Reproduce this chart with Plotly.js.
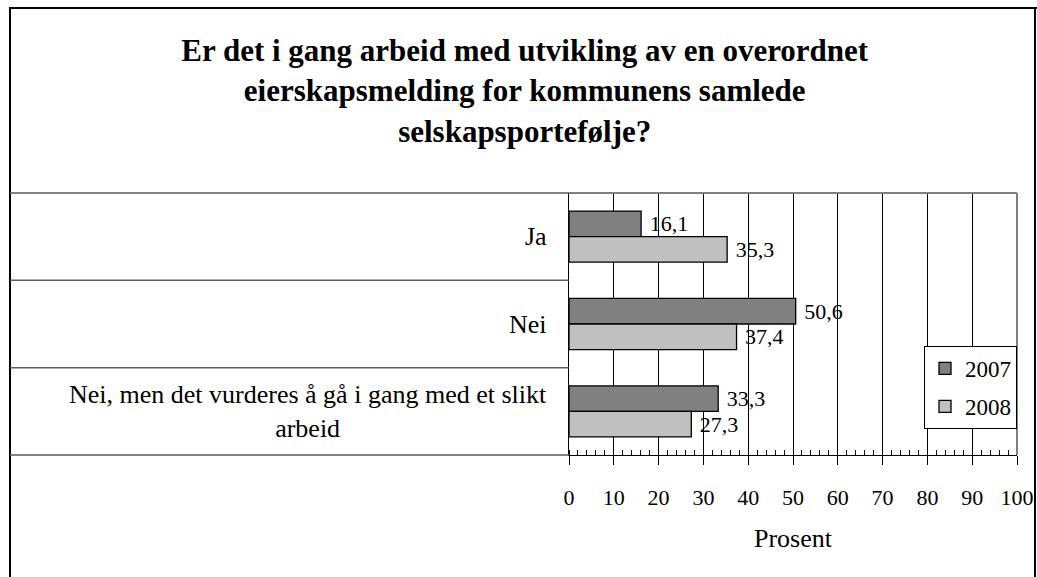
<!DOCTYPE html>
<html>
<head>
<meta charset="utf-8">
<script src="https://cdn.plot.ly/plotly-3.0.1.min.js"></script>
<style>html,body{margin:0;padding:0;background:#fff;}#chart{width:1037px;height:577px;}</style>
</head>
<body>
<div id="chart"></div>
<script>
const categories = ['Ja', 'Nei', 'Nei, men det vurderes å gå i gang med et slikt<br>arbeid'];
const years = ['2007', '2008'];
const values2007 = [16.1, 50.6, 33.3];
const values2008 = [35.3, 37.4, 27.3];
const titleText = 'Er det i gang arbeid med utvikling av en overordnet<br>eierskapsmelding for kommunens samlede<br>selskapsportefølje?';
const axisTitle = 'Prosent';

const W = 1037, H = 577, ML = 569, MR = 20, MT = 193, MB = 122;
const PW = W - ML - MR, PH = H - MT - MB;
const px = x => (x - ML) / PW;
const py = y => (H - MB - y) / PH;

const FONT = 'Liberation Serif';

function barTrace(name, vals, color) {
  return {
    type: 'bar', orientation: 'h', name: name, legendgroup: name,
    y: categories, x: vals,
    marker: {color: color, line: {color: '#000', width: 1.3}},
    texttemplate: '\u00a0%{x:.1f}', textposition: 'outside',
    textfont: {family: FONT, size: 22, color: '#000'},
    constraintext: 'none', cliponaxis: false, hoverinfo: 'skip'
  };
}

const data = [
  barTrace(years[0], values2007, '#808080'),
  barTrace(years[1], values2008, '#c0c0c0')
];

const shapes = [];
const frame = {color: '#000', width: 2};
shapes.push({type: 'line', xref: 'paper', yref: 'paper', x0: px(10), x1: px(10), y0: py(8), y1: py(590), line: frame});
shapes.push({type: 'line', xref: 'paper', yref: 'paper', x0: px(9), x1: px(1037), y0: py(8), y1: py(8), line: frame});
shapes.push({type: 'line', xref: 'paper', yref: 'paper', x0: px(1035), x1: px(1035), y0: py(8), y1: py(590), line: frame});
for (let i = 0; i <= categories.length; i++) {
  const yy = 1 - i / categories.length;
  shapes.push({type: 'line', xref: 'paper', yref: 'paper', x0: px(10), x1: 0, y0: yy, y1: yy,
    line: {color: '#595959', width: 1.5}});
}
shapes.push({type: 'line', xref: 'paper', yref: 'paper', x0: 0, x1: 1, y0: 1, y1: 1, line: {color: '#808080', width: 2}});
shapes.push({type: 'line', xref: 'paper', yref: 'paper', x0: 1, x1: 1, y0: 0, y1: 1, line: {color: '#808080', width: 2}});

const annotations = categories.map(c => ({
  xref: 'paper', yref: 'y', x: px(549), y: c, text: c, showarrow: false,
  xanchor: 'right', yanchor: 'middle', align: 'center',
  font: {family: FONT, size: 26, color: '#000'}
}));

const layout = {
  width: W, height: H,
  margin: {l: ML, r: MR, t: MT, b: MB, pad: 0},
  paper_bgcolor: '#fff', plot_bgcolor: '#fff',
  font: {family: FONT, color: '#000', size: 22},
  separators: ', ',
  hovermode: false,
  showlegend: true,
  barmode: 'group', bargap: 0.415, bargroupgap: 0,
  title: {
    text: titleText, xref: 'container', yref: 'container',
    x: 0.506, xanchor: 'center', y: 1 - 61 / H, yanchor: 'middle',
    font: {family: FONT, size: 31, color: '#000', weight: 'bold'}
  },
  xaxis: {
    range: [0, 100], tick0: 0, dtick: 10, fixedrange: true,
    ticks: 'outside', ticklen: 9, tickcolor: '#000', tickwidth: 1,
    showline: true, linecolor: '#000', linewidth: 1,
    showgrid: true, gridcolor: '#000', gridwidth: 1, zeroline: false,
    tickfont: {family: FONT, size: 22, color: '#000'},
    ticklabelstandoff: 14,
    minor: {dtick: 2, ticks: 'inside', ticklen: 5, tickcolor: '#000', tickwidth: 1, showgrid: false},
    title: {text: axisTitle, font: {family: FONT, size: 26, color: '#000'}, standoff: 19},
    automargin: false
  },
  yaxis: {
    type: 'category', autorange: 'reversed', fixedrange: true,
    showticklabels: false, ticks: '', showgrid: false, zeroline: false,
    showline: true, linecolor: '#000', linewidth: 1, automargin: false
  },
  legend: {
    x: 1, xanchor: 'right', y: py(346), yanchor: 'top',
    bgcolor: '#fff', bordercolor: '#000', borderwidth: 1,
    font: {family: FONT, size: 23, color: '#000'},
    tracegroupgap: 5, traceorder: 'grouped'
  },
  shapes: shapes,
  annotations: annotations
};

Plotly.newPlot('chart', data, layout, {displayModeBar: false, staticPlot: true});
</script>
</body>
</html>
